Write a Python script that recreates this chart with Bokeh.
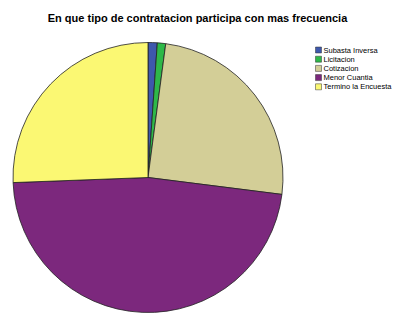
import numpy as np
from bokeh.plotting import figure
from bokeh.models import Range1d, ColumnDataSource
from bokeh.core.properties import value
from bokeh.embed import file_html
from bokeh.resources import INLINE

title = "En que tipo de contratacion participa con mas frecuencia"
categories = ["Subasta Inversa", "Licitacion", "Cotizacion", "Menor Cuantia", "Termino la Encuesta"]
percents = [1.1, 1.0, 24.9, 47.4, 25.6]
colors = ["#3E58AC", "#2EB848", "#D3CE97", "#7C287D", "#FBF873"]

W, H = 396, 313
p = figure(width=W, height=H, output_backend="svg", toolbar_location=None,
           x_range=Range1d(0, W), y_range=Range1d(-H, 0),
           min_border=0, outline_line_color=None)
p.axis.visible = False
p.grid.visible = False
p.background_fill_color = "white"
p.border_fill_color = "white"

# pie: clockwise from 12 o'clock
frac = np.array(percents) / sum(percents)
cum = np.concatenate([[0], np.cumsum(frac)])
start = np.pi / 2 - 2 * np.pi * cum[1:]
end = np.pi / 2 - 2 * np.pi * cum[:-1]
src = ColumnDataSource(dict(start=start, end=end, color=colors, cat=categories))
cx, cy, r = 147.5, -177.0, 135
p.wedge(x=cx, y=cy, radius=r, start_angle="start", end_angle="end",
        fill_color="color", line_color="#222222", line_width=0.8, source=src)

# title
p.text(x=[197], y=[-17], text=[title], text_font=value("Liberation Sans"),
       text_font_style="bold", text_font_size="11px", text_align="center",
       text_baseline="middle", text_color="black")

# legend
ly = [-49.5 - 9.2 * i for i in range(len(categories))]
p.rect(x=[318] * len(categories), y=ly, width=6, height=6, fill_color=colors,
       line_color="#333333", line_width=0.5)
p.text(x=[323] * len(categories), y=ly, text=categories,
       text_font=value("Liberation Sans"), text_font_size="7.5px",
       text_baseline="middle", text_color="black")

open("out.html", "w").write(file_html(p, INLINE))
